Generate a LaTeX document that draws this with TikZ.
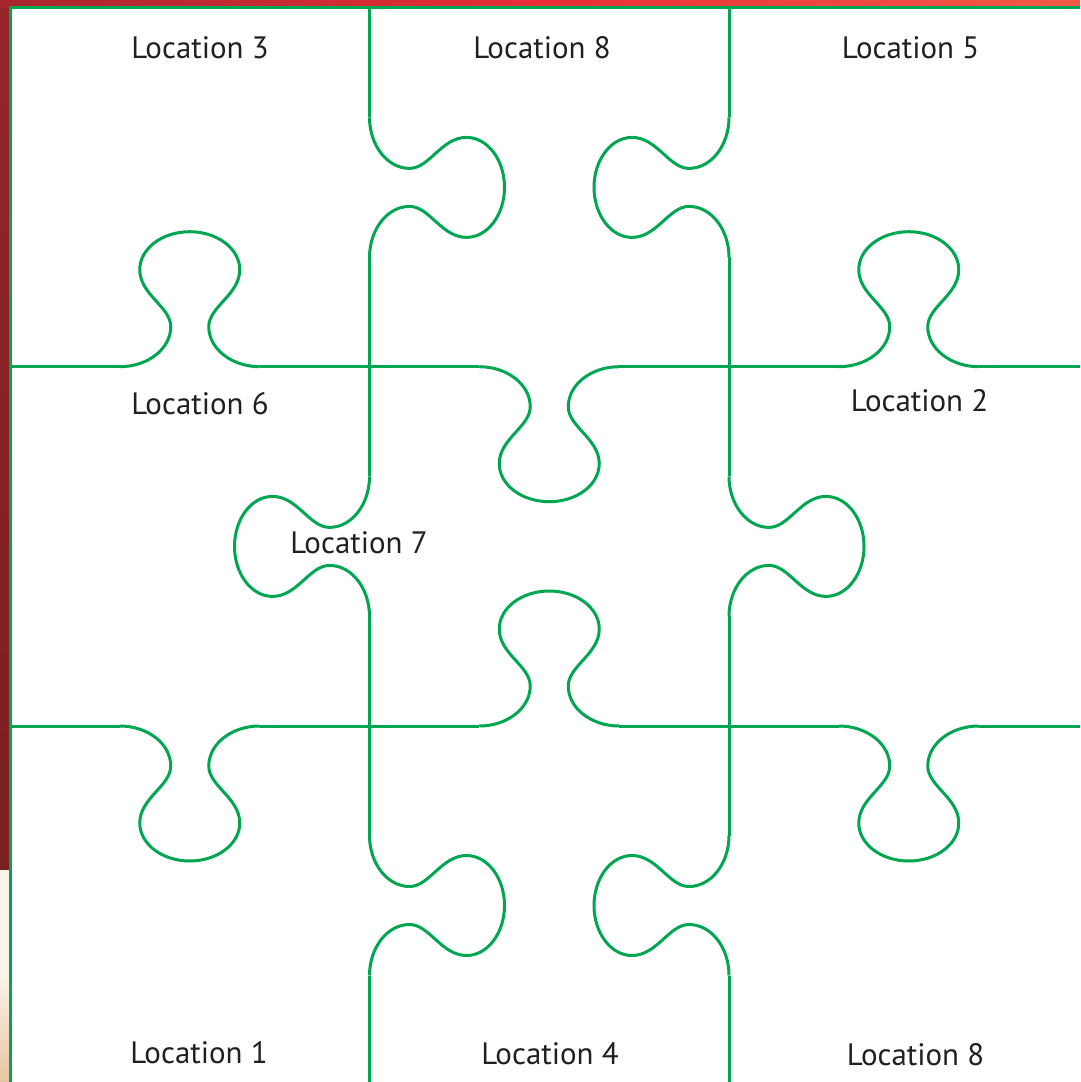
\documentclass[tikz,border=0pt]{standalone}
\usepackage{fontspec}
\setmainfont{PT Sans}
\definecolor{puzzlegreen}{HTML}{00A651}
\definecolor{inktext}{HTML}{231F20}
\definecolor{stripdark}{HTML}{A5262D}
\definecolor{stripmid}{HTML}{E82E37}
\definecolor{stripright}{HTML}{F25A46}
\definecolor{sidered}{HTML}{962529}
\definecolor{sidedeep}{HTML}{7A1F22}
\definecolor{sidebeige}{HTML}{FCF3E8}
\definecolor{sidetan}{HTML}{E6C5A2}

\begin{document}
\begin{tikzpicture}[x=0.1mm, y=-0.1mm,
  edge/.style={draw=puzzlegreen, line width=0.3mm},
  loc/.style={font=\fontsize{8.8}{10}\selectfont, text=inktext, anchor=base, inner sep=0pt},
  knob/.pic={\draw[edge] (-70,0) .. controls (-41.8,0) and (-19,18) .. (-19,40)
      .. controls (-19,60) and (-50,72) .. (-50,97)
      .. controls (-50,118) and (-27.6,135) .. (0,135)
      .. controls (27.6,135) and (50,118) .. (50,97)
      .. controls (50,72) and (19,60) .. (19,40)
      .. controls (19,18) and (41.8,0) .. (70,0);}]
\useasboundingbox (0,0) rectangle (1080,1082);
% backdrop behind the sheet
\shade[top color=sidered, bottom color=sidedeep] (0,0) rectangle (10,870);
\fill[sidebeige] (0,870) rectangle (10,1082);
\shade[top color=sidebeige, bottom color=sidetan] (0,975) rectangle (10,1082);
\shade[left color=stripdark, right color=stripright, middle color=stripmid] (0,0) rectangle (1080,8);
\fill[white] (10,8) rectangle (1080,1082);
% outer frame
\draw[edge] (1080,8) -- (10,8) -- (10,1082);
% straight parts of the cuts
\foreach \y in {366.7,726} {
  \draw[edge] (10,\y) -- (119.75,\y) (259.75,\y) -- (479.25,\y)
              (619.25,\y) -- (838.75,\y) (978.75,\y) -- (1080,\y);
}
\foreach \x in {369.5,729} {
  \draw[edge] (\x,8) -- (\x,117.4) (\x,257.4) -- (\x,476.4)
              (\x,616.4) -- (\x,835.5) (\x,975.5) -- (\x,1082);
}
% tabs
\foreach \x/\y/\a in {189.75/366.7/180, 549.25/366.7/0, 908.75/366.7/180,
                      189.75/726/0, 549.25/726/180, 908.75/726/0,
                      369.5/187.4/90, 369.5/546.4/-90, 369.5/905.5/90,
                      729/187.4/-90, 729/546.4/90, 729/905.5/-90}
  \pic[rotate=\a] at (\x,\y) {knob};
% labels
\node[loc] (loc3)  at (200,58.5)   {Location 3};
\node[loc] (loc8a) at (542,58.5)   {Location 8};
\node[loc] (loc5)  at (910.5,58.5) {Location 5};
\node[loc] (loc6)  at (200,414)    {Location 6};
\node[loc] (loc2)  at (919.5,411)  {Location 2};
\node[loc] (loc7)  at (359,553)    {Location 7};
\node[loc] (loc1)  at (199,1063)   {Location 1};
\node[loc] (loc4)  at (550,1064.3) {Location 4};
\node[loc] (loc8b) at (915.5,1065) {Location 8};
\end{tikzpicture}
\end{document}
